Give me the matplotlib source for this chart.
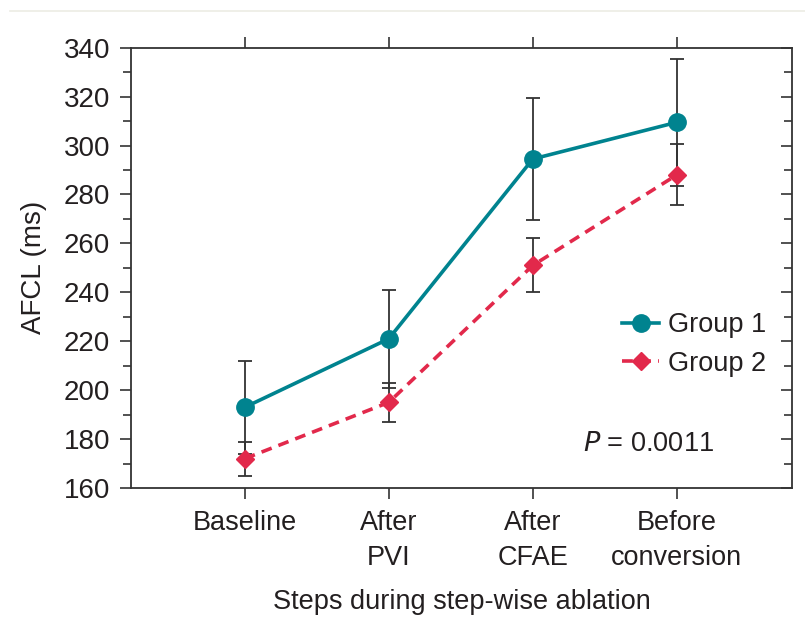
import matplotlib
matplotlib.use("Agg")
import matplotlib.pyplot as plt
from matplotlib.ticker import MultipleLocator
from matplotlib.lines import Line2D

plt.rcParams['font.family'] = ['Liberation Sans', 'DejaVu Sans']

categories = ["Baseline", "After\nPVI", "After\nCFAE", "Before\nconversion"]
group1 = [193, 221, 294.5, 309.5]
group1_err = [19, 20, 25, 26]
group2 = [172, 195, 251, 288]
group2_err = [7, 8, 11, 12.5]

teal = "#00838F"
red = "#E2294B"
dark = "#333333"
txt = "#231F20"
FS = 19.5

fig = plt.figure(figsize=(8.05, 6.35), dpi=100)
ax = fig.add_axes([0.1627, 0.2315, 0.8212, 0.6934])
x = list(range(1, len(categories) + 1))

ax.errorbar(x, group1, yerr=group1_err, fmt='none', ecolor=dark, elinewidth=1.3,
            capsize=5, capthick=1.3, zorder=2)
ax.errorbar(x, group2, yerr=group2_err, fmt='none', ecolor=dark, elinewidth=1.3,
            capsize=5, capthick=1.3, zorder=2)
ax.plot(x, group1, color=teal, lw=2.6, marker='o', ms=12.5, label="Group 1", zorder=3)
ax.plot(x, group2, color=red, lw=2.6, ls=(0, (3, 2)), marker='D', ms=9.5, label="Group 2", zorder=3)

ax.set_xlim(0.21, 4.8)
ax.set_ylim(160, 340)
ax.set_xticks(x)
ax.set_xticklabels(categories, fontsize=FS, color=txt, linespacing=1.42)
ax.yaxis.set_major_locator(MultipleLocator(20))
ax.yaxis.set_minor_locator(MultipleLocator(10))
ax.tick_params(axis='y', which='major', labelsize=FS + 0.5, length=8, width=1.2, color=dark,
               labelcolor=txt, direction='out', right=True, pad=7)
ax.tick_params(axis='y', which='minor', length=6, width=1.2, color=dark, direction='out', right=True)
ax.tick_params(axis='x', which='major', length=8, width=1.2, color=dark, direction='out', top=True, pad=8)
for t in ax.yaxis.get_major_ticks() + ax.yaxis.get_minor_ticks():
    t.tick2line.set_marker(matplotlib.lines.TICKLEFT)
for s in ax.spines.values():
    s.set_linewidth(1.3)
    s.set_color(dark)

ax.set_ylabel("AFCL (ms)", fontsize=FS + 0.5, color=txt, labelpad=12)
ax.set_xlabel("Steps during step-wise ablation", fontsize=FS, color=txt, labelpad=13)

leg = ax.legend(loc='upper left', bbox_to_anchor=(0.743, 0.399), frameon=False, fontsize=FS,
                handlelength=1.37, handletextpad=0.33, labelspacing=0.45, borderpad=0, borderaxespad=0)
for t in leg.get_texts():
    t.set_color(txt)

ax.text(0.684, 0.1, r"$\it{P}$ = 0.0011", transform=ax.transAxes, fontsize=FS,
        va='center', ha='left', color=txt)

fig.add_artist(Line2D([0.012, 1.0], [0.983, 0.983], color="#ecece4", lw=1.2))

fig.savefig("out.png", dpi=100, facecolor="white")
